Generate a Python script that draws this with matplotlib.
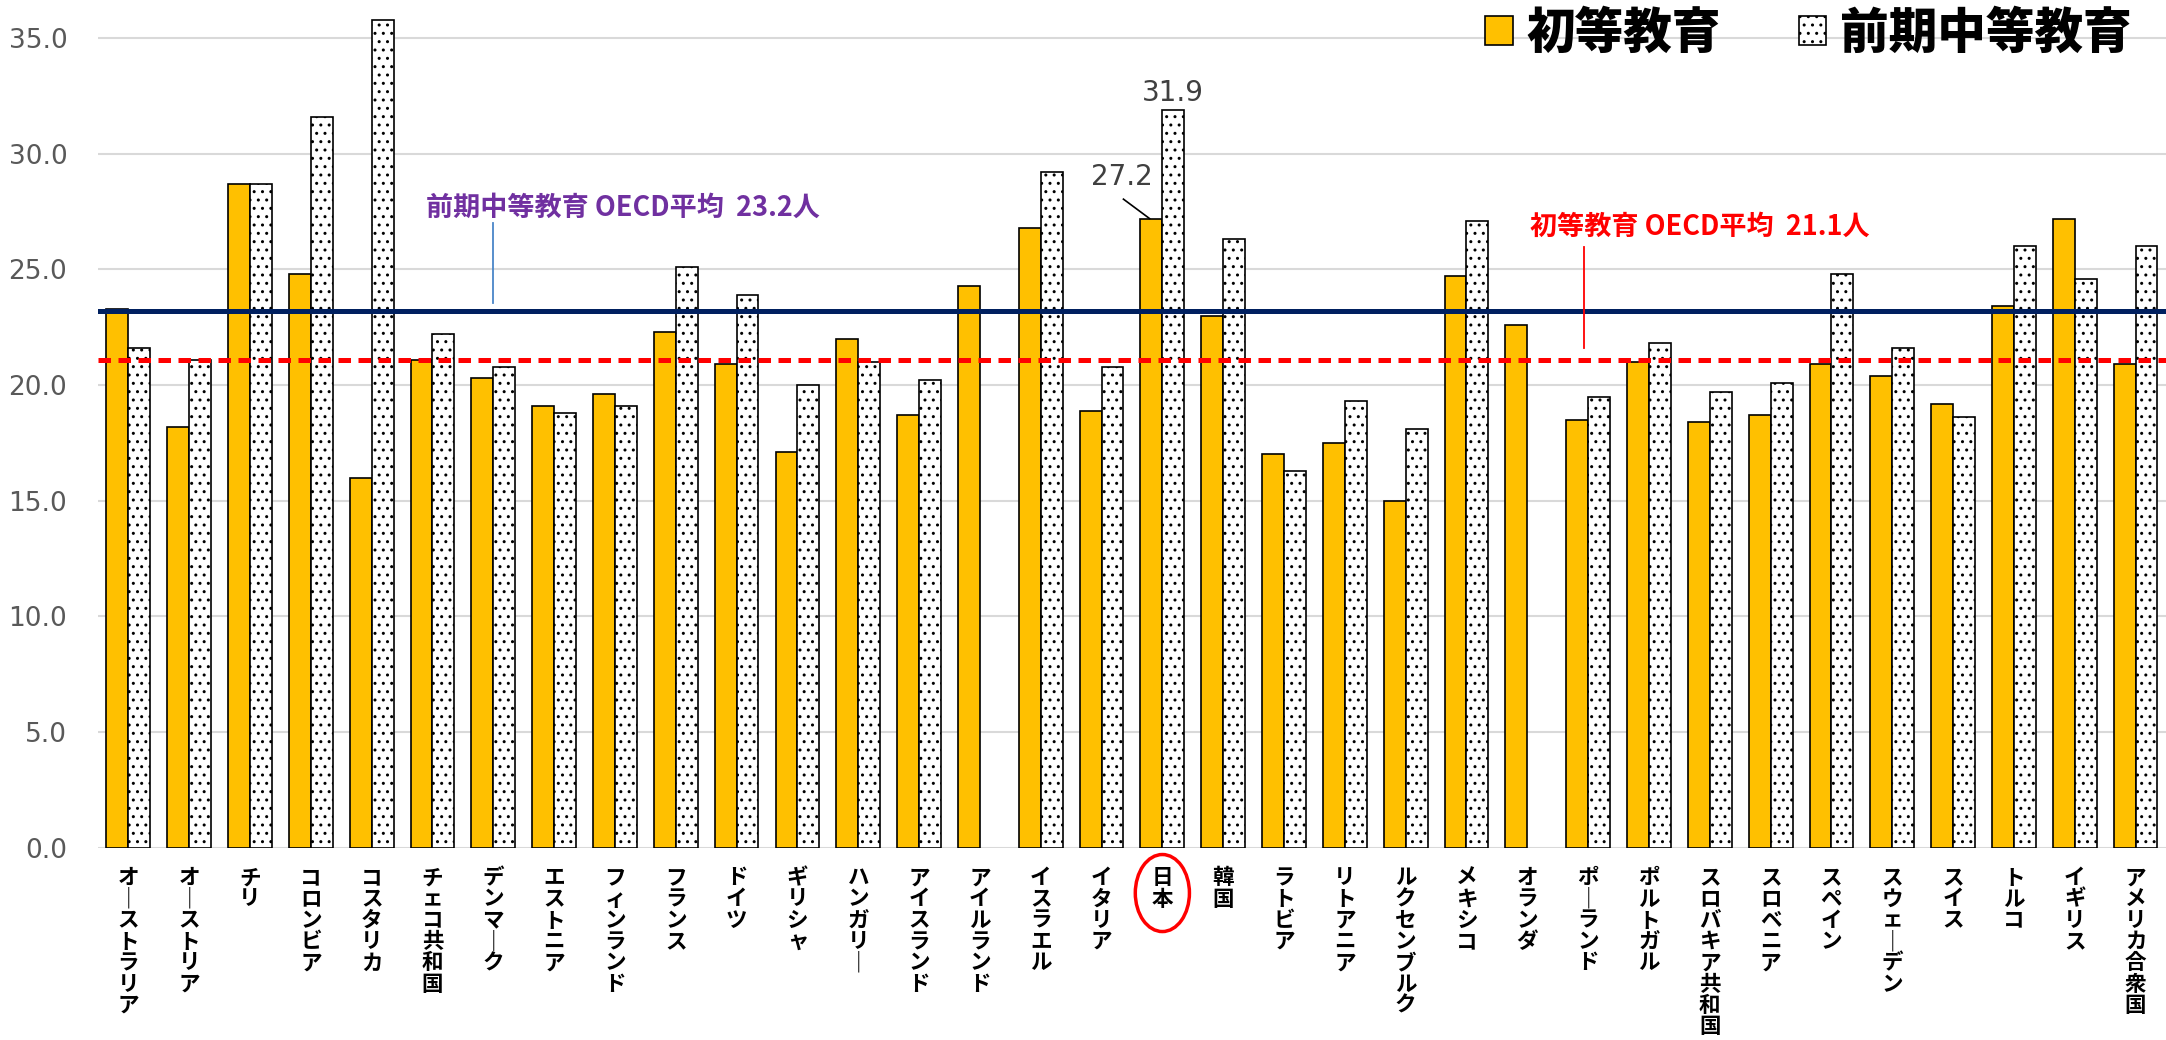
import numpy as np
import matplotlib
matplotlib.use('Agg')
from matplotlib import pyplot as plt
from matplotlib.patches import Ellipse
import matplotlib.transforms as mtransforms

plt.rcParams['font.family'] = ['Noto Sans CJK JP', 'DejaVu Sans']
plt.rcParams['hatch.linewidth'] = 1.0

# 国名（OECD加盟国）
countries = ['オーストラリア', 'オーストリア', 'チリ', 'コロンビア', 'コスタリカ', 'チェコ共和国',
             'デンマーク', 'エストニア', 'フィンランド', 'フランス', 'ドイツ', 'ギリシャ',
             'ハンガリー', 'アイスランド', 'アイルランド', 'イスラエル', 'イタリア', '日本',
             '韓国', 'ラトビア', 'リトアニア', 'ルクセンブルク', 'メキシコ', 'オランダ',
             'ポーランド', 'ポルトガル', 'スロバキア共和国', 'スロベニア', 'スペイン',
             'スウェーデン', 'スイス', 'トルコ', 'イギリス', 'アメリカ合衆国']

# 1学級当たり児童生徒数
primary = [23.3, 18.2, 28.7, 24.8, 16.0, 21.1, 20.3, 19.1, 19.6, 22.3, 20.9, 17.1,
           22.0, 18.7, 24.3, 26.8, 18.9, 27.2, 23.0, 17.0, 17.5, 15.0, 24.7, 22.6,
           18.5, 21.0, 18.4, 18.7, 20.9, 20.4, 19.2, 23.4, 27.2, 20.9]
lower_secondary = [21.6, 21.1, 28.7, 31.6, 35.8, 22.2, 20.8, 18.8, 19.1, 25.1, 23.9, 20.0,
                   21.0, 20.2, np.nan, 29.2, 20.8, 31.9, 26.3, 16.3, 19.3, 18.1, 27.1, np.nan,
                   19.5, 21.8, 19.7, 20.1, 24.8, 21.6, 18.6, 26.0, 24.6, 26.0]

series_names = ['初等教育', '前期中等教育']
oecd_primary = 21.1
oecd_secondary = 23.2
japan = '日本'

num_font = ['Liberation Sans Narrow', 'DejaVu Sans']

fig = plt.figure(figsize=(21.66, 10.4), dpi=100)
ax = fig.add_axes([0.0452, 0.1849, 0.9548, 0.8151])

x = np.arange(len(countries))
w = 0.36
b1 = ax.bar(x - w / 2, primary, w, color='#FFC000', edgecolor='black', linewidth=1.2,
            label=series_names[0], zorder=3)
b2 = ax.bar(x + w / 2, lower_secondary, w, color='white', edgecolor='black', linewidth=1.2,
            hatch='..', label=series_names[1], zorder=3)

# OECD平均の線
ax.axhline(oecd_secondary, color='#002060', lw=3.6, zorder=4)
ax.axhline(oecd_primary, color='#FF0000', lw=3.6, ls=(0, (2.5, 1.5)), zorder=4)

ax.set_xlim(-0.5, len(countries) - 0.5)
ax.set_ylim(0, 36.65)
ax.set_yticks(np.arange(0, 36, 5))
ax.set_yticklabels([f'{v:.1f}' for v in np.arange(0, 36, 5)], color='#595959', fontsize=19,
                   family=num_font)
ax.grid(axis='y', color='#D9D9D9', lw=1.5, zorder=0)
for s in ax.spines.values():
    s.set_visible(False)
ax.tick_params(axis='both', length=0)
ax.tick_params(axis='y', pad=22)
ax.set_xticks([])

# 縦書きラベル（1文字ずつ縦に並べる）
base = mtransforms.blended_transform_factory(ax.transData, ax.transAxes)
pitch = 21.3
for i, name in enumerate(countries):
    for k, ch in enumerate(name.replace('ー', '｜')):
        tr = mtransforms.offset_copy(base, fig=fig, y=-(30 + k * pitch), units='dots')
        ax.text(i, 0, ch, transform=tr, ha='center', va='center', fontsize=15.5,
                fontweight='bold', clip_on=False)

ij = countries.index(japan)
ax.add_patch(Ellipse((ij, -1.96), 0.89, 3.33, fill=False, edgecolor='red', lw=2.5,
                     clip_on=False, zorder=5))

# 注記
ax.text(4.89, 27.65, f'前期中等教育 OECD平均  {oecd_secondary}人', color='#7030A0',
        fontsize=19.5, fontweight='bold', va='center', ha='left')
ax.plot([5.99, 5.99], [27.0, 23.55], color='#4A86C8', lw=1.3, zorder=5)
ax.text(23.05, 26.83, f'初等教育 OECD平均  {oecd_primary}人', color='#FF0000',
        fontsize=19.5, fontweight='bold', va='center', ha='left')
ax.plot([23.94, 23.94], [25.97, 21.6], color='#FF0000', lw=1.3, zorder=5)

ax.text(ij + w / 2, lower_secondary[ij] + 0.75, f'{lower_secondary[ij]}', color='#404040',
        fontsize=20, ha='center', va='center', family=num_font)
ax.text(ij - 0.66, primary[ij] + 1.8, f'{primary[ij]}', color='#404040',
        fontsize=20, ha='center', va='center', family=num_font)
ax.plot([ij - 0.64, ij - 0.21], [primary[ij] + 0.84, primary[ij]], color='black', lw=1.2, zorder=5)

ax.legend(handles=[b1, b2], loc='upper right', bbox_to_anchor=(0.993, 1.012), ncol=2,
          frameon=False, prop={'size': 35, 'weight': 'heavy'}, handlelength=0.56,
          handleheight=0.56, handletextpad=0.29, columnspacing=1.6, borderaxespad=0)

fig.savefig('out.png', dpi=100)
